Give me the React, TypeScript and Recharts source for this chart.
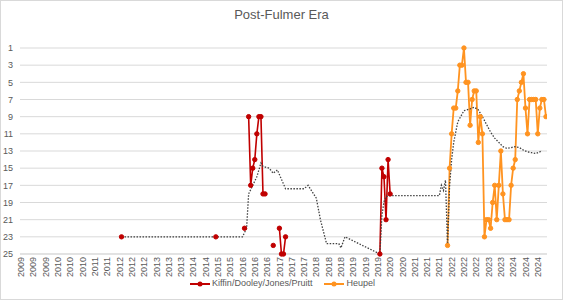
import { LineChart, Line, XAxis, YAxis, CartesianGrid, Legend } from "recharts"

// x axis: poll number since 2009 (one label every 6 polls)
const tickYears = [
  2009, 2009, 2009, 2010, 2010, 2010, 2011, 2011, 2012, 2012, 2012, 2013, 2013, 2013,
  2014, 2014, 2015, 2015, 2016, 2016, 2016, 2017, 2017, 2017, 2018, 2018, 2018,
  2019, 2019, 2019, 2020, 2020, 2021, 2021, 2021, 2022, 2022, 2022, 2023, 2023,
  2024, 2024, 2024,
]
const pollsPerLabel = 6
const rankTicks = [1, 3, 5, 7, 9, 11, 13, 15, 17, 19, 21, 23, 25]

const preHeupelPolls = [49, 95, 109, 111, 112, 113, 114, 115, 116, 117, 118, 119, 123, 126, 127, 128, 129, 175, 176, 177, 178, 179, 180]
const preHeupelRanks = [23, 23, 22, 9, 17, 15, 14, 11, 9, 9, 18, 18, 24, 22, 25, 25, 23, 25, 15, 16, 21, 14, 18]

const heupelFirstPoll = 208
const heupelRanks = [
  24, 15, 11, 8, 8, 6, 3, 3, 1, 5, 5, 10, 7, 6, 6, 12, 9, 11, 23, 21, 21, 22, 19, 17, 21,
  17, 13, 18, 21, 21, 21, 17, 15, 14, 7, 6, 5, 4, 8, 11, 7, 7, 7, 7, 11, 8, 7, 7, 9,
]

// moving average across both eras
const trendPolls = [
  49, 108, 110, 111, 113, 115, 117, 118, 121, 123, 125, 129, 138, 140, 144, 146, 149, 155, 156, 158,
  175, 176, 177, 178, 180, 204, 205, 206, 207, 208, 209, 210, 211, 213, 216, 219, 221, 223, 225, 227,
  229, 231, 233, 235, 237, 239, 241, 243, 245, 247, 249, 251, 253, 254,
]
const trendRanks = [
  23, 23, 22, 18, 17, 16, 14.4, 14.8, 15, 15.6, 15.2, 17.4, 17.4, 17, 18.5, 21, 23.8, 23.8, 24.3, 23,
  25, 20.5, 18.9, 18.3, 18.2, 18.2, 17, 17.6, 16.4, 24, 17, 14, 12, 9.6, 8.3, 8.1, 7.9, 8.2, 9, 9.9,
  10.8, 11.5, 12, 12.5, 12.7, 12.6, 12.5, 12.6, 12.9, 13.1, 13.2, 13.3, 13.1, 12.9,
]

const RED = "#C00000"
const ORANGE = "#FF9320"
const TEXT = "#595959"
const FONT = "'Liberation Sans', Arial, sans-serif"

type Pt = { poll: number; rank: number | null }

// unranked weeks break the line
function withGaps(polls: number[], ranks: number[]): Pt[] {
  const out: Pt[] = []
  polls.forEach((p, i) => {
    if (i > 0 && p - polls[i - 1] > 1) out.push({ poll: polls[i - 1] + 1, rank: null })
    out.push({ poll: p, rank: ranks[i] })
  })
  return out
}

const preHeupelData = withGaps(preHeupelPolls, preHeupelRanks)
const heupelData = withGaps(
  heupelRanks.map((_, i) => heupelFirstPoll + i),
  heupelRanks,
)
const trendData: Pt[] = trendPolls.map((p, i) => ({ poll: p, rank: trendRanks[i] }))
const xTicks = tickYears.map((_, i) => i * pollsPerLabel)

const YearTick = (props: any) => {
  const { x, y, payload } = props
  return (
    <text
      x={x}
      y={y}
      transform={`rotate(-90 ${x} ${y})`}
      textAnchor="end"
      dy="0.35em"
      fontSize={9}
      fill={TEXT}
      fontFamily={FONT}
    >
      {tickYears[Math.round(payload.value / pollsPerLabel)]}
    </text>
  )
}

const LegendIcon = ({ color }: { color: string }) => (
  <svg width={20} height={10} style={{ verticalAlign: "middle", marginRight: 2 }}>
    <line x1={0} y1={5} x2={20} y2={5} stroke={color} strokeWidth={2} />
    <circle cx={10} cy={5} r={2.5} fill={color} />
  </svg>
)

const renderLegend = () => (
  <div
    style={{
      display: "flex",
      justifyContent: "center",
      gap: 12,
      fontFamily: FONT,
      fontSize: 9,
      color: TEXT,
      marginLeft: 18,
    }}
  >
    <span>
      <LegendIcon color={RED} />Kiffin/Dooley/Jones/Pruitt
    </span>
    <span>
      <LegendIcon color={ORANGE} />Heupel
    </span>
  </div>
)

export default function App() {
  return (
    <div style={{ position: "absolute", left: 0, top: 0, width: 563, height: 300, background: "#fff" }}>
      <div
        style={{
          position: "absolute",
          top: 7,
          width: 563,
          textAlign: "center",
          fontFamily: FONT,
          fontSize: 13,
          color: TEXT,
        }}
      >
        Post-Fulmer Era
      </div>
      <LineChart width={563} height={300} margin={{ top: 48, right: 16, bottom: 4, left: 0 }}>
        <CartesianGrid horizontal vertical={false} stroke="#d9d9d9" />
        <XAxis
          type="number"
          dataKey="poll"
          domain={[-0.5, 256.5]}
          ticks={xTicks}
          interval={0}
          height={26}
          tick={<YearTick />}
          tickLine={false}
          tickSize={0}
          tickMargin={3}
          axisLine={{ stroke: "#d9d9d9" }}
          allowDataOverflow
        />
        <YAxis
          type="number"
          reversed
          domain={[1, 25]}
          ticks={rankTicks}
          interval={0}
          width={20}
          tickLine={false}
          axisLine={false}
          tickSize={0}
          tickMargin={7}
          tick={{ fontSize: 9, fill: TEXT, fontFamily: FONT }}
        />
        <Legend verticalAlign="bottom" height={16} content={renderLegend} wrapperStyle={{ bottom: 6 }} />
        <Line
          data={preHeupelData}
          dataKey="rank"
          name="Kiffin/Dooley/Jones/Pruitt"
          stroke={RED}
          strokeWidth={1.6}
          dot={{ r: 2.2, fill: RED, stroke: RED, strokeWidth: 1 }}
          connectNulls={false}
          isAnimationActive={false}
        />
        <Line
          data={heupelData}
          dataKey="rank"
          name="Heupel"
          stroke={ORANGE}
          strokeWidth={1.8}
          dot={{ r: 2.2, fill: ORANGE, stroke: ORANGE, strokeWidth: 1 }}
          connectNulls={false}
          isAnimationActive={false}
        />
        <Line
          data={trendData}
          dataKey="rank"
          legendType="none"
          stroke="#404040"
          strokeWidth={1.3}
          strokeDasharray="1.5 1.5"
          dot={false}
          isAnimationActive={false}
        />
      </LineChart>
      <div
        style={{
          position: "absolute",
          inset: 0,
          border: "1px solid #d9d9d9",
          boxSizing: "border-box",
          pointerEvents: "none",
        }}
      />
    </div>
  )
}
